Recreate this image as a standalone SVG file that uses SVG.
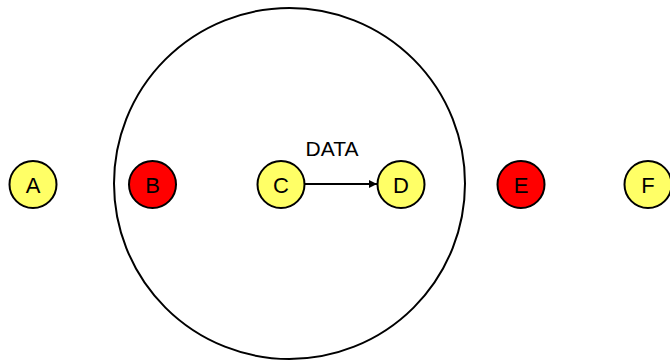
<svg xmlns="http://www.w3.org/2000/svg" width="670" height="360" viewBox="0 0 670 360">
  <style>
    .node { stroke: #000; stroke-width: 2; }
    .yellow { fill: #FFFF66; }
    .red { fill: #FF0000; }
    .label { font-family: "Liberation Sans", Arial, sans-serif; font-size: 22px; fill: #000; text-anchor: middle; dominant-baseline: central; }
    .edge { stroke: #000; stroke-width: 2; fill: none; }
  </style>
  <defs>
    <marker id="arrow" viewBox="0 0 10 10" refX="10" refY="5" markerWidth="4" markerHeight="4" orient="auto" markerUnits="strokeWidth">
      <path d="M0,0 L10,5 L0,10 z" fill="#000"/>
    </marker>
  </defs>

  <!-- enclosing range -->
  <g id="range">
    <circle cx="289.5" cy="183.5" r="175.5" fill="none" stroke="#000" stroke-width="2"/>
  </g>

  <g id="connectors">
    <line class="edge" x1="305" y1="184" x2="377" y2="184" marker-end="url(#arrow)"/>
    <text class="label" x="332" y="148" style="font-size:21px">DATA</text>
  </g>

  <g id="node-A">
    <circle class="node yellow" cx="33" cy="184.5" r="23.5"/>
    <text class="label" x="33" y="185">A</text>
  </g>
  <g id="node-B">
    <circle class="node red" cx="152.5" cy="184.5" r="23.5"/>
    <text class="label" x="152.5" y="185">B</text>
  </g>
  <g id="node-C">
    <circle class="node yellow" cx="281" cy="184.5" r="23.5"/>
    <text class="label" x="281" y="185">C</text>
  </g>
  <g id="node-D">
    <circle class="node yellow" cx="401" cy="184.5" r="23.5"/>
    <text class="label" x="401" y="185">D</text>
  </g>
  <g id="node-E">
    <circle class="node red" cx="521" cy="184.5" r="23.5"/>
    <text class="label" x="521" y="185">E</text>
  </g>
  <g id="node-F">
    <circle class="node yellow" cx="648" cy="184.5" r="23.5"/>
    <text class="label" x="648" y="185">F</text>
  </g>
</svg>
